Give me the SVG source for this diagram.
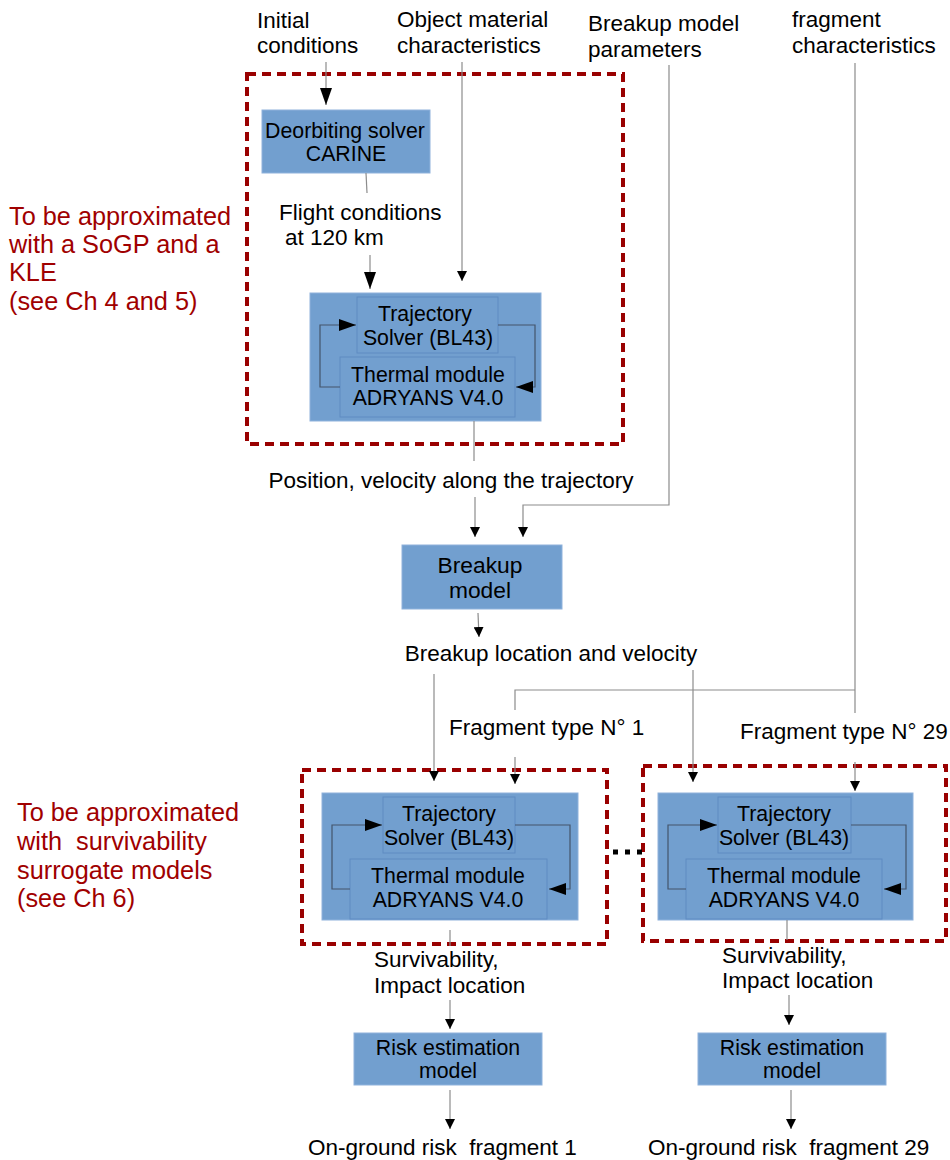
<svg xmlns="http://www.w3.org/2000/svg" width="950" height="1160" viewBox="0 0 950 1160">
<defs>
<style>
text{font-family:"Liberation Sans",Arial,sans-serif;fill:#000}
.lbl{font-size:22.5px}
.bx{font-size:21.3px;text-anchor:middle}
.bxl{font-size:22.8px;text-anchor:middle}
.red{font-size:25.3px;fill:#a00000}
.box{fill:#729fcf;stroke:#8fb2dc;stroke-width:1}
.inner{fill:#729fcf;stroke:#5f8bc2;stroke-width:1}
.dash{fill:none;stroke:#990000;stroke-width:4;stroke-dasharray:9 6}
.c{fill:none;stroke:#8c8c8c;stroke-width:1.2}
.loop{fill:none;stroke:#44556b;stroke-width:1.2}
</style>
<marker id="big" markerUnits="userSpaceOnUse" markerWidth="17" markerHeight="12" refX="17" refY="6" orient="auto"><path d="M0,0 L17,6 L0,12 z" fill="#000"/></marker>
<marker id="sm" markerUnits="userSpaceOnUse" markerWidth="10" markerHeight="10" refX="10" refY="5" orient="auto"><path d="M0,0 L10,5 L0,10 z" fill="#000"/></marker>
</defs>
<rect width="950" height="1160" fill="#fff"/>

<g id="labels-top">
<text class="lbl" x="257" y="28">Initial</text>
<text class="lbl" x="257" y="53">conditions</text>
<text class="lbl" x="397" y="27">Object material</text>
<text class="lbl" x="397" y="53">characteristics</text>
<text class="lbl" x="588" y="31">Breakup model</text>
<text class="lbl" x="588" y="57">parameters</text>
<text class="lbl" x="792" y="27">fragment</text>
<text class="lbl" x="792" y="53">characteristics</text>
</g>

<g id="note-top">
<text class="red" x="9" y="225">To be approximated</text>
<text class="red" x="9" y="253">with a SoGP and a</text>
<text class="red" x="9" y="281">KLE</text>
<text class="red" x="9" y="310">(see Ch 4 and 5)</text>
</g>
<g id="note-bottom">
<text class="red" x="17" y="821">To be approximated</text>
<text class="red" x="17" y="850" xml:space="preserve">with  survivability</text>
<text class="red" x="17" y="879">surrogate models</text>
<text class="red" x="17" y="907">(see Ch 6)</text>
</g>

<g id="group-top"><rect class="dash" x="247" y="74" width="376" height="370"/></g>
<g id="group-frag1"><rect class="dash" x="302" y="770" width="305" height="174"/></g>
<g id="group-frag29"><rect class="dash" x="643" y="766" width="303" height="175"/></g>

<g id="deorbiting">
<rect class="box" x="262" y="110" width="168" height="63"/>
<text class="bx" x="345" y="138">Deorbiting solver</text>
<text class="bx" x="346" y="161">CARINE</text>
</g>

<g id="flight-label">
<text class="lbl" x="279" y="220">Flight conditions</text>
<text class="lbl" x="285" y="245">at 120 km</text>
</g>

<g id="solver-top">
<rect class="box" x="310" y="293" width="231" height="128"/>
<rect class="inner" x="357" y="297" width="141" height="56"/>
<text class="bx" x="425" y="321">Trajectory</text>
<text class="bx" x="428" y="345">Solver (BL43)</text>
<rect class="inner" x="340" y="357" width="175" height="60"/>
<text class="bx" x="428" y="382">Thermal module</text>
<text class="bx" x="428" y="405">ADRYANS V4.0</text>
</g>

<g id="position-label"><text class="lbl" x="451" y="488" text-anchor="middle">Position, velocity along the trajectory</text></g>

<g id="breakup">
<rect class="box" x="402" y="545" width="160" height="64"/>
<text class="bxl" x="480" y="573">Breakup</text>
<text class="bxl" x="480" y="598">model</text>
</g>

<g id="breakup-label"><text class="lbl" x="551" y="661" text-anchor="middle">Breakup location and velocity</text></g>
<g id="frag1-label"><text class="lbl" x="449" y="735">Fragment type N° 1</text></g>
<g id="frag29-label"><text class="lbl" x="740" y="739">Fragment type N° 29</text></g>

<g id="solver-frag1">
<rect class="box" x="322" y="793" width="256" height="127"/>
<rect class="inner" x="383" y="797" width="132" height="56"/>
<text class="bx" x="449" y="821">Trajectory</text>
<text class="bx" x="449" y="845">Solver (BL43)</text>
<rect class="inner" x="350" y="859" width="197" height="60"/>
<text class="bx" x="448" y="883">Thermal module</text>
<text class="bx" x="448" y="907">ADRYANS V4.0</text>
</g>

<g id="solver-frag29">
<rect class="box" x="658" y="793" width="255" height="127"/>
<rect class="inner" x="718" y="797" width="133" height="56"/>
<text class="bx" x="784" y="821">Trajectory</text>
<text class="bx" x="784" y="845">Solver (BL43)</text>
<rect class="inner" x="686" y="859" width="196" height="60"/>
<text class="bx" x="784" y="883">Thermal module</text>
<text class="bx" x="784" y="907">ADRYANS V4.0</text>
</g>

<g id="ellipsis"><line x1="613" y1="852" x2="644" y2="852" stroke="#000" stroke-width="5" stroke-dasharray="5 7"/></g>

<g id="surv1-label">
<text class="lbl" x="374" y="967">Survivability,</text>
<text class="lbl" x="374" y="993">Impact location</text>
</g>
<g id="surv29-label">
<text class="lbl" x="722" y="963">Survivability,</text>
<text class="lbl" x="722" y="988">Impact location</text>
</g>

<g id="risk1">
<rect class="box" x="354" y="1033" width="188" height="52"/>
<text class="bx" x="448" y="1055">Risk estimation</text>
<text class="bx" x="448" y="1078">model</text>
</g>
<g id="risk29">
<rect class="box" x="698" y="1033" width="188" height="52"/>
<text class="bx" x="792" y="1055">Risk estimation</text>
<text class="bx" x="792" y="1078">model</text>
</g>

<g id="out1-label"><text class="lbl" x="308" y="1155" xml:space="preserve">On-ground risk  fragment 1</text></g>
<g id="out29-label"><text class="lbl" x="648" y="1155" xml:space="preserve">On-ground risk  fragment 29</text></g>

<g id="connectors">
<path class="c" d="M326,62 V105" marker-end="url(#big)"/>
<path class="c" d="M366,173 L367,193"/>
<path class="c" d="M370,255 V289" marker-end="url(#big)"/>
<path class="c" d="M462,62 V281" marker-end="url(#sm)"/>
<path class="loop" d="M340,387 H320 V325 H356" marker-end="url(#big)"/>
<path class="loop" d="M498,325 H535 V387 H516" marker-end="url(#big)"/>
<path class="c" d="M474,421 V461"/>
<path class="c" d="M475,497 V537" marker-end="url(#sm)"/>
<path class="c" d="M669,65 V505 H523 V537" marker-end="url(#sm)"/>
<path class="c" d="M478,613 L479,637" marker-end="url(#sm)"/>
<path class="c" d="M434,674 V781" marker-end="url(#sm)"/>
<path class="c" d="M693,670 V782" marker-end="url(#sm)"/>
<path class="c" d="M855,63 V713 M855,690 H515 V710"/>
<path class="c" d="M515,757 V784" marker-end="url(#sm)"/>
<path class="c" d="M855,762 V791" marker-end="url(#sm)"/>
<path class="loop" d="M350,889 H332 V825 H382" marker-end="url(#big)"/>
<path class="loop" d="M515,825 H570 V889 H549" marker-end="url(#big)"/>
<path class="loop" d="M686,889 H668 V825 H717" marker-end="url(#big)"/>
<path class="loop" d="M851,825 H906 V889 H884" marker-end="url(#big)"/>
<path class="c" d="M450,930 V946"/>
<path class="c" d="M450,1000 V1029" marker-end="url(#sm)"/>
<path class="c" d="M450,1090 V1129" marker-end="url(#sm)"/>
<path class="c" d="M787,920 V940"/>
<path class="c" d="M789,995 V1025" marker-end="url(#sm)"/>
<path class="c" d="M791,1090 V1129" marker-end="url(#sm)"/>
</g>
</svg>
